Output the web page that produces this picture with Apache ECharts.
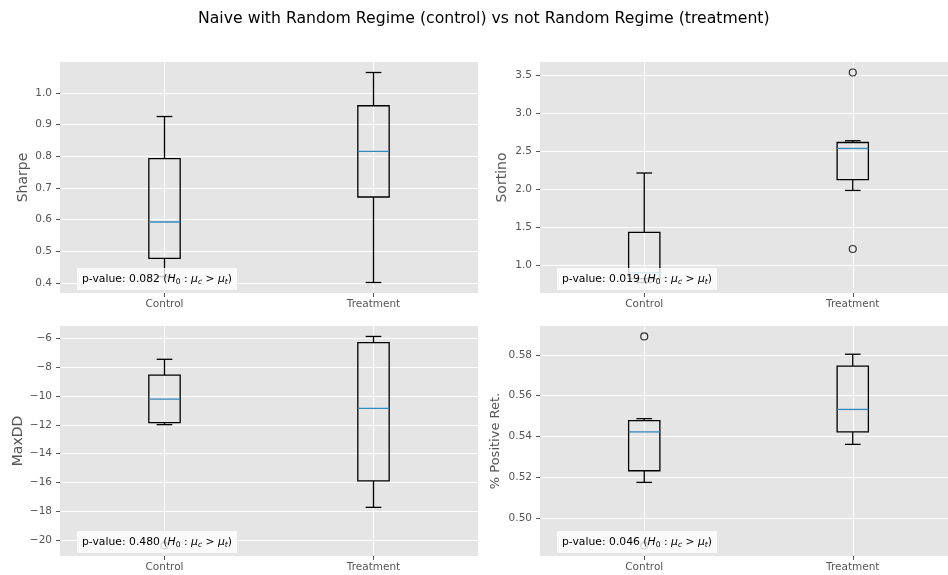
<!DOCTYPE html>
<html>
<head>
<meta charset="utf-8">
<script src="https://cdn.jsdelivr.net/npm/echarts@6/dist/echarts.min.js"></script>
<style>
  html, body { margin: 0; padding: 0; background: #fff; }
  #main { width: 948px; height: 575px; }
</style>
</head>
<body>
<div id="main"></div>
<script>
const groups = ['Control', 'Treatment'];

// box stats: [lower whisker, Q1, median, Q3, upper whisker]
const sharpeControl = [0.420, 0.477, 0.592, 0.792, 0.925];
const sharpeTreatment = [0.401, 0.671, 0.815, 0.959, 1.064];
const sharpeOutliers = [[], []];
const sharpeTicks = [0.4, 0.5, 0.6, 0.7, 0.8, 0.9, 1.0];

const sortinoControl = [0.770, 0.820, 0.900, 1.429, 2.209];
const sortinoTreatment = [1.980, 2.121, 2.532, 2.610, 2.633];
const sortinoOutliers = [[], [3.53, 1.21]];
const sortinoTicks = [1.0, 1.5, 2.0, 2.5, 3.0, 3.5];

const maxddControl = [-11.99, -11.85, -10.23, -8.57, -7.47];
const maxddTreatment = [-17.71, -15.88, -10.87, -6.32, -5.89];
const maxddOutliers = [[-20.35], []];
const maxddTicks = [-20, -18, -16, -14, -12, -10, -8, -6];

const posControl = [0.5176, 0.5233, 0.5423, 0.5478, 0.5488];
const posTreatment = [0.5362, 0.5423, 0.5533, 0.5745, 0.5803];
const posOutliers = [[0.589, 0.4867], []];
const posTicks = [0.50, 0.52, 0.54, 0.56, 0.58];

const pValues = ['0.082', '0.019', '0.480', '0.046'];

const FONT = 'DejaVu Sans';

const panels = [
  {name: 'Sharpe', boxes: [sharpeControl, sharpeTreatment], out: sharpeOutliers, ticks: sharpeTicks, dec: 1, split: 5, gap: 30, size: 14},
  {name: 'Sortino', boxes: [sortinoControl, sortinoTreatment], out: sortinoOutliers, ticks: sortinoTicks, dec: 1, split: 5, gap: 31, size: 14},
  {name: 'MaxDD', boxes: [maxddControl, maxddTreatment], out: maxddOutliers, ticks: maxddTicks, dec: 0, split: 7, gap: 35, size: 14},
  {name: '% Positive Ret.', boxes: [posControl, posTreatment], out: posOutliers, ticks: posTicks, dec: 2, split: 5, gap: 38, size: 13}
];

// plot areas (left, top, width, height); the right column runs past the canvas edge
const areas = [
  [60, 62, 418, 231],
  [540, 62, 417, 231],
  [60, 326, 418, 230],
  [540, 326, 417, 230]
];

// matplotlib style 5% margin around all data
function range(p) {
  let vals = [];
  p.boxes.forEach(b => vals = vals.concat(b));
  p.out.forEach(o => vals = vals.concat(o));
  const lo = Math.min(...vals), hi = Math.max(...vals);
  const pad = (hi - lo) * 0.05;
  return [lo - pad, hi + pad];
}

function renderBox(params, api) {
  const x = api.value(0);
  const pts = [1, 2, 3, 4, 5].map(i => api.coord([x, api.value(i)]));
  const cx = pts[0][0];
  const band = api.size([1, 0])[0];
  const hw = band * 0.075, cw = band * 0.0375;
  const st = {stroke: '#000', lineWidth: 1.3, fill: 'none'};
  return {
    type: 'group',
    children: [
      {type: 'line', shape: {x1: cx, y1: pts[0][1], x2: cx, y2: pts[1][1]}, style: st},
      {type: 'line', shape: {x1: cx, y1: pts[3][1], x2: cx, y2: pts[4][1]}, style: st},
      {type: 'line', shape: {x1: cx - cw, y1: pts[0][1], x2: cx + cw, y2: pts[0][1]}, style: st},
      {type: 'line', shape: {x1: cx - cw, y1: pts[4][1], x2: cx + cw, y2: pts[4][1]}, style: st},
      {type: 'rect', shape: {x: cx - hw, y: pts[3][1], width: 2 * hw, height: pts[1][1] - pts[3][1]}, style: st},
      {type: 'line', shape: {x1: cx - hw, y1: pts[2][1], x2: cx + hw, y2: pts[2][1]}, style: {stroke: '#348ABD', lineWidth: 1.3, fill: 'none'}}
    ]
  };
}

let chartDom = document.getElementById('main');
let chart = echarts.init(chartDom);
let option;

const grid = [], xAxis = [], yAxis = [], series = [], graphic = [];

panels.forEach((p, i) => {
  const a = areas[i];
  const r = range(p);
  grid.push({
    left: a[0], top: a[1], width: a[2], height: a[3],
    outerBoundsMode: 'none', containLabel: false,
    show: true, backgroundColor: '#E5E5E5', borderWidth: 0
  });
  xAxis.push({
    type: 'category',
    gridIndex: i,
    data: groups,
    axisLine: {show: false},
    axisTick: {show: true, alignWithLabel: true, length: 4, lineStyle: {color: '#555'}},
    axisLabel: {color: '#555', fontSize: 10.5, fontFamily: FONT, margin: 6},
    splitLine: {show: true, alignWithLabel: true, lineStyle: {color: '#fff', width: 1}}
  });
  yAxis.push({
    type: 'value',
    gridIndex: i,
    min: r[0],
    max: r[1],
    splitNumber: p.split,
    name: p.name,
    nameLocation: 'middle',
    nameGap: p.gap,
    nameTextStyle: {color: '#555', fontSize: p.size, fontFamily: FONT},
    axisLine: {show: false},
    axisTick: {show: true, length: 4, lineStyle: {color: '#555'}, customValues: p.ticks},
    axisLabel: {
      color: '#555', fontSize: 10.5, fontFamily: FONT, margin: 8,
      customValues: p.ticks,
      formatter: v => v.toFixed(p.dec).replace('-', '\u2212')
    },
    splitLine: {show: true, lineStyle: {color: '#fff', width: 1}}
  });
  series.push({
    type: 'custom',
    xAxisIndex: i,
    yAxisIndex: i,
    renderItem: renderBox,
    encode: {x: 0, y: [1, 2, 3, 4, 5]},
    data: p.boxes.map((b, k) => [k].concat(b)),
    z: 3
  });
  let outData = [];
  p.out.forEach((o, k) => o.forEach(v => outData.push([k, v])));
  series.push({
    type: 'scatter',
    xAxisIndex: i,
    yAxisIndex: i,
    symbol: 'circle',
    symbolSize: 7,
    itemStyle: {color: 'rgba(0,0,0,0)', borderColor: '#000', borderWidth: 1.2},
    data: outData,
    z: 4
  });
  graphic.push({
    type: 'text',
    x: a[0] + 17,
    y: a[1] + a[3] - 25,
    z: 100,
    style: {
      text: '{n|p-value: ' + pValues[i] + ' (}{i|H}{s|0}{n| : }{i|\u03bc}{si|c}{n| > }{i|\u03bc}{si|t}{n|)}',
      backgroundColor: 'rgba(255,255,255,0.8)',
      padding: [4, 5, 4, 5],
      rich: {
        n: {fontSize: 10.8, fontFamily: FONT, fill: '#000', lineHeight: 14},
        i: {fontSize: 10.8, fontFamily: FONT, fontStyle: 'italic', fill: '#000', lineHeight: 14},
        s: {fontSize: 7.6, fontFamily: FONT, fill: '#000', verticalAlign: 'bottom'},
        si: {fontSize: 7.6, fontFamily: FONT, fontStyle: 'italic', fill: '#000', verticalAlign: 'bottom'}
      }
    }
  });
});

option = {
  animation: false,
  backgroundColor: '#fff',
  title: {
    text: 'Naive with Random Regime (control) vs not Random Regime (treatment)',
    left: 193,
    top: 6,
    textStyle: {fontFamily: FONT, fontSize: 15.7, fontWeight: 'normal', color: '#000'}
  },
  grid: grid,
  xAxis: xAxis,
  yAxis: yAxis,
  series: series,
  graphic: graphic
};

chart.setOption(option);
window.addEventListener('resize', function () {
  chart.resize();
});
</script>
</body>
</html>
